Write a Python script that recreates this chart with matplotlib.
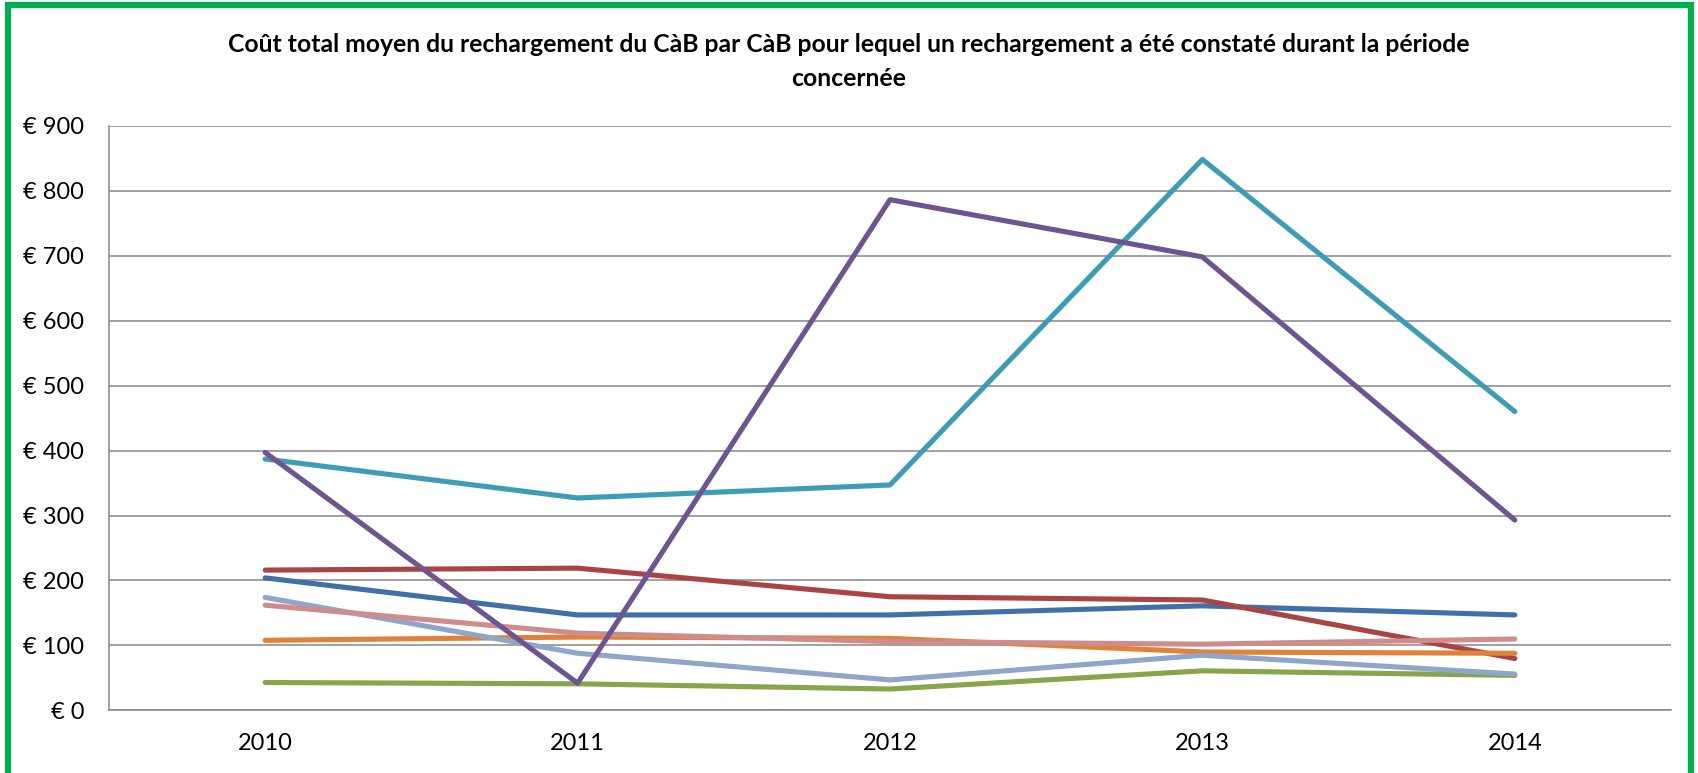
import matplotlib.pyplot as plt
from matplotlib.patches import Rectangle

plt.rcParams['font.family'] = ['Lato', 'DejaVu Sans']

years = ["2010", "2011", "2012", "2013", "2014"]

blue = [204, 147, 147, 161, 147]
red = [216, 219, 175, 170, 80]
green = [43, 41, 33, 61, 54]
orange = [108, 113, 111, 90, 88]
light_blue = [174, 88, 47, 85, 56]
pink = [162, 119, 106, 102, 110]
aqua = [387, 327, 347, 848, 460]
purple = [397, 42, 786, 698, 293]

series = [
    (blue, "#4170A8"),
    (red, "#AA4443"),
    (green, "#87A54A"),
    (orange, "#E0823A"),
    (light_blue, "#8EA6CC"),
    (pink, "#D08C8B"),
    (aqua, "#3D9DB5"),
    (purple, "#6E5491"),
]

fig = plt.figure(figsize=(16.98, 7.73), dpi=100)
ax = fig.add_axes([0.0642, 0.0809, 0.9199, 0.7566])

x = range(len(years))
for vals, col in series:
    ax.plot(x, vals, color=col, lw=3.7, solid_capstyle='round', solid_joinstyle='round')

ax.set_xlim(-0.5, 4.5)
ax.set_ylim(0, 900)
ax.set_yticks(range(0, 901, 100))
ax.set_yticklabels(["€ %d" % v for v in range(0, 901, 100)])
ax.set_xticks(list(x))
ax.set_xticklabels(years)
ax.yaxis.grid(True, color="#868686", lw=1.1)
ax.set_axisbelow(True)
ax.tick_params(length=0, labelsize=17)
ax.tick_params(axis='y', pad=18)
ax.tick_params(axis='x', pad=16)
for s in ["top", "right"]:
    ax.spines[s].set_visible(False)
for s in ["left", "bottom"]:
    ax.spines[s].set_color("#868686")
    ax.spines[s].set_linewidth(1.1)

t1 = fig.text(0.5, 0.942, "Coût total moyen du rechargement du CàB par CàB pour lequel un rechargement a été constaté durant la période",
              ha='center', va='center', fontsize=16, fontweight='bold')
t2 = fig.text(0.5, 0.899, "concernée", ha='center', va='center', fontsize=16, fontweight='bold')

# fit the first title line to the width it has in the original (~1250 px)
fig.canvas.draw()
w = t1.get_window_extent().width
size = 16 * 1250 / w
t1.set_fontsize(size)
t2.set_fontsize(size)

# green frame
fig.patches.append(Rectangle((0.0045, -0.05), 0.9915, 1.044, transform=fig.transFigure,
                             fill=False, edgecolor="#00B050", lw=4.5))

fig.savefig("out.png", dpi=100)
